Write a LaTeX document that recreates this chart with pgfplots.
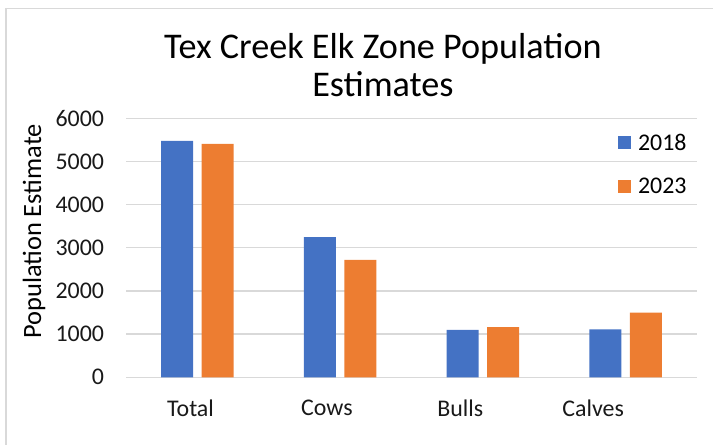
\documentclass[border=0pt]{standalone}
\usepackage{fontspec}
\setmainfont{Carlito}
\usepackage{pgfplots}
\pgfplotsset{compat=1.18}
\definecolor{blueA}{HTML}{4472C4}
\definecolor{orangeB}{HTML}{ED7D31}
\definecolor{gridgray}{HTML}{D9D9D9}
\begin{document}
\begin{tikzpicture}[x=1bp,y=1bp]
\path[use as bounding box] (0,0) rectangle (713,445);
\draw[gridgray, line width=1.5bp] (6,0) -- (6,436.5) -- (713,436.5);
\begin{axis}[
  at={(126bp,67.7bp)}, anchor=south west,
  width=571bp, height=259bp, scale only axis,
  ybar=8.7bp, bar width=32bp,
  xmin=-0.5, xmax=3.5, ymin=0, ymax=6000,
  ytick={0,1000,...,6000},
  xtick={-0.048,0.907,1.842,2.773},
  xticklabels={Total,Cows,Bulls,Calves},
  axis line style={draw=none},
  major tick length=0pt,
  ymajorgrids, grid style={gridgray, line width=1.3bp},
  tick label style={font=\fontsize{24}{28}\selectfont, text=black!90},
  /pgf/number format/assume math mode=true,
  /pgf/number format/1000 sep={},
  yticklabel style={xshift=-18.5bp},
  xticklabel style={yshift=-19bp},
  ylabel={Population Estimate},
  ylabel style={at={(rel axis cs:-0.161,0.563)}, anchor=center, font=\fontsize{26.5}{30}\selectfont},
  title={Tex Creek Elk Zone Population\\Estimates},
  title style={at={(rel axis cs:0.45,1)}, anchor=south, align=center, inner sep=0pt, yshift=15bp, font=\fontsize{36.3}{38}\selectfont},
  legend style={at={(rel axis cs:0.8617,0.948)}, anchor=north west, draw=none, fill=none,
    font=\fontsize{24}{28}\selectfont, row sep=22.5bp, inner sep=0pt, outer sep=0pt,
    /tikz/every odd column/.append style={column sep=5bp}},
  legend cell align=left,
  legend image code/.code={\fill[#1] (0bp,-6.5bp) rectangle (13bp,6.5bp);},
]
\addplot[fill=blueA, draw=none] coordinates {(0,5475) (1,3245) (2,1100) (3,1110)};
\addplot[fill=orangeB, draw=none] coordinates {(0,5405) (1,2720) (2,1160) (3,1500)};
\legend{2018,2023}
\end{axis}
\end{tikzpicture}
\end{document}
